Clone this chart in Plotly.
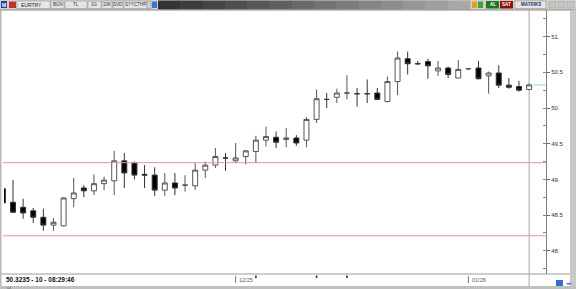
import plotly.graph_objects as go

# ---------------- data ----------------
bar_index = list(range(53))
open_ = [48.87, 48.68, 48.61, 48.56, 48.47, 48.36, 48.35, 48.73, 48.88, 48.84,
         48.94, 48.98, 49.26, 49.23, 49.07, 49.06, 48.85, 48.95, 48.92, 48.91,
         49.13, 49.20, 49.30, 49.26, 49.32, 49.39, 49.55, 49.59, 49.56, 49.58,
         49.55, 49.84, 50.12, 50.15, 50.21, 50.20, 50.20, 50.21, 50.09, 50.37,
         50.69, 50.62, 50.65, 50.52, 50.56, 50.42, 50.55, 50.56, 50.45, 50.49,
         50.32, 50.30, 50.26]
high = [48.89, 48.99, 48.73, 48.60, 48.59, 48.46, 48.75, 49.02, 48.92, 49.07,
        49.04, 49.40, 49.37, 49.25, 49.20, 49.17, 49.09, 49.09, 49.06, 49.23,
        49.25, 49.44, 49.37, 49.51, 49.41, 49.61, 49.74, 49.67, 49.72, 49.62,
        49.87, 50.26, 50.21, 50.27, 50.46, 50.28, 50.40, 50.28, 50.44, 50.79,
        50.79, 50.66, 50.69, 50.66, 50.58, 50.67, 50.56, 50.66, 50.51, 50.60,
        50.42, 50.38, 50.34]
low = [48.65, 48.53, 48.45, 48.39, 48.28, 48.28, 48.34, 48.61, 48.75, 48.78,
       48.85, 48.78, 48.88, 49.00, 48.88, 48.77, 48.77, 48.78, 48.83, 48.85,
       49.02, 49.16, 49.12, 49.23, 49.21, 49.23, 49.46, 49.44, 49.45, 49.47,
       49.45, 49.79, 50.00, 50.07, 50.12, 50.02, 50.07, 50.12, 50.08, 50.18,
       50.47, 50.60, 50.41, 50.45, 50.42, 50.42, 50.53, 50.40, 50.20, 50.28,
       50.27, 50.23, 50.25]
close = [48.67, 48.54, 48.53, 48.47, 48.36, 48.40, 48.74, 48.81, 48.84, 48.94,
         48.99, 49.26, 49.09, 49.06, 49.06, 48.85, 48.95, 48.88, 48.92, 49.13,
         49.20, 49.32, 49.30, 49.30, 49.40, 49.55, 49.60, 49.52, 49.58, 49.51,
         49.84, 50.13, 50.12, 50.21, 50.21, 50.20, 50.20, 50.12, 50.37, 50.70,
         50.62, 50.62, 50.59, 50.56, 50.47, 50.54, 50.55, 50.41, 50.49, 50.32,
         50.29, 50.25, 50.3235]

price_ticks = [48.0, 48.5, 49.0, 49.5, 50.0, 50.5, 51.0]
price_tick_text = ["48.", "48.5", "49.", "49.5", "50.", "50.5", "51."]
level_lines = [49.234, 48.21]
month_labels = ["12/25", "01/26"]
month_start_index = [23, 46]
event_index = [25, 31, 34]
status_text = "50.3235 - 10 - 08:29:46"
symbol = "EURTRY"
toolbar_labels = ["BGN", "TL", "1G", "10K", "SVD", "SYYCTHP"]

# ---------------- layout helpers ----------------
W, H = 576, 289
def px(x): return x / W
def py(y): return 1 - y / H

FONT = "Liberation Sans"

fig = go.Figure()
fig.add_trace(go.Candlestick(
    x=bar_index, open=open_, high=high, low=low, close=close,
    increasing=dict(fillcolor="white", line=dict(color="#555555", width=1)),
    decreasing=dict(fillcolor="black", line=dict(color="#333333", width=1)),
    whiskerwidth=0, showlegend=False, hoverinfo="skip",
))

shapes = []
annos = []

def rect(x0, y0, x1, y1, fill, line=None, lw=0):
    shapes.append(dict(type="rect", xref="paper", yref="paper",
                       x0=px(x0), x1=px(x1), y0=py(y1), y1=py(y0),
                       fillcolor=fill,
                       line=dict(color=line or fill, width=lw)))

def hline(x0, x1, y, color, w=1):
    shapes.append(dict(type="line", xref="paper", yref="paper",
                       x0=px(x0), x1=px(x1), y0=py(y), y1=py(y),
                       line=dict(color=color, width=w)))

def text(x, y, s, size=5, color="#222", anchor="left", bold=False):
    annos.append(dict(xref="paper", yref="paper", x=px(x), y=py(y),
                      text=("<b>%s</b>" % s) if bold else s, showarrow=False,
                      xanchor=anchor, yanchor="middle",
                      font=dict(family=FONT, size=size, color=color)))

# toolbar
rect(0, 0, 576, 10, "#d4d0c8")
steps = 14
for i in range(steps):
    x0 = 158 + i * (470 - 158) / steps
    x1 = 158 + (i + 1) * (470 - 158) / steps + 0.5
    c = int(0x33 + (0xa8 - 0x33) * i / (steps - 1))
    rect(x0, 0.5, x1, 9.5, "#%02x%02x%02x" % (c, c, c))
rect(1, 1, 7, 8, "#2040a0")
text(4, 4.6, "M", 5, "white", "center", True)
rect(9, 1.5, 16, 8, "#c03030")
rect(17, 1, 50, 8.5, "#e8e8e8", "#8a8a8a", 0.5)
text(19, 4.8, symbol, 5, "#202060")
bx = [(51, 64), (65, 87), (88, 101), (102, 112), (113, 123), (124, 147)]
for (a, b), lab in zip(bx, toolbar_labels):
    rect(a, 1, b, 8.5, "#e4e4e4", "#8a8a8a", 0.5)
    text((a + b) / 2, 4.8, lab, 4.5, "#333", "center")
rect(147, 1, 151, 8.5, "#cfcfcf", "#8a8a8a", 0.5)
rect(152, 1.5, 157, 8, "#3a78d0")
rect(472, 1.5, 477, 8, "#e0a020")
rect(478, 1.5, 483, 8, "#40a040")
rect(486, 1, 499, 8.5, "#1f7a1f")
text(492.5, 4.8, "AL", 4.5, "white", "center", True)
rect(500, 1, 513, 8.5, "#8e1010")
text(506.5, 4.8, "SAT", 4.5, "white", "center", True)
rect(515, 1, 546, 8.5, "#e6e6e6", "#8a8a8a", 0.5)
text(530.5, 4.8, "MATRIKS", 4.5, "#203080", "center", True)
for a in (549, 558, 567):
    rect(a, 1.5, a + 7, 8, "#c4c4c4", "#a0a0a0", 0.5)
hline(0, 576, 10, "#8a8a8a")

# frame borders
rect(0, 10, 1.5, 289, "#b8b8b8")
rect(570, 10, 576, 289, "#c8c8c8")
rect(0, 286, 576, 289, "#c0c0c0")

# bottom bar
hline(1.5, 570, 274, "#9a9a9a")
text(4, 279.5, status_text, 6.5, "#111", "left", True)
for lab, idx in zip(month_labels, month_start_index):
    shapes.append(dict(type="line", xref="x", yref="paper", x0=idx, x1=idx,
                       y0=py(283), y1=py(276), line=dict(color="#777", width=1)))
    annos.append(dict(xref="x", yref="paper", x=idx + 0.15, y=py(279.5),
                      text=lab, showarrow=False, xanchor="left", yanchor="middle",
                      font=dict(family=FONT, size=5.5, color="#555")))
for idx in event_index:
    shapes.append(dict(type="rect", xref="x", yref="paper", x0=idx - 0.08, x1=idx + 0.08,
                       y0=py(278), y1=py(275.5), fillcolor="#333",
                       line=dict(color="#333", width=0)))
rect(556, 280, 563, 286, "#3070c8")
text(569, 283, "◂▸", 4.5, "#3070c8", "center")
text(5, 287.6, "ad", 3.5, "#666")

# reference lines
for lv in level_lines:
    shapes.append(dict(type="line", xref="paper", yref="y", x0=px(3), x1=px(546),
                       y0=lv, y1=lv, line=dict(color="#f09090", width=1)))
shapes.append(dict(type="line", xref="x", yref="y", x0=52.38, x1=53.67,
                   y0=close[-1], y1=close[-1], line=dict(color="#80e4e4", width=1)))
shapes.append(dict(type="line", xref="x", yref="paper", x0=bar_index[-1], x1=bar_index[-1],
                   y0=py(286), y1=py(10), line=dict(color="#a8a8a8", width=1), layer="below"))

fig.update_layout(
    width=W, height=H,
    margin=dict(l=0, r=0, t=0, b=0),
    paper_bgcolor="white", plot_bgcolor="white",
    shapes=shapes, annotations=annos,
    showlegend=False,
    xaxis=dict(domain=[px(4), px(546)], range=[0.11, 53.67], visible=False,
               rangeslider=dict(visible=False), fixedrange=True),
    yaxis=dict(domain=[py(274), py(10)], range=[50 - 166 / 71.4, 50 + 98 / 71.4],
               side="right", showline=True, linecolor="#808080", linewidth=1,
               ticks="outside", ticklen=3, tickcolor="#666", tickwidth=1,
               tickvals=price_ticks, ticktext=price_tick_text,
               tickfont=dict(family=FONT, size=6, color="#333"),
               showgrid=False, zeroline=False, automargin=False,
               minor=dict(dtick=0.25, tick0=48, ticks="inside", ticklen=3,
                          tickcolor="#888", showgrid=False)),
    boxgap=0.3,
)

fig.write_html("out.html")
